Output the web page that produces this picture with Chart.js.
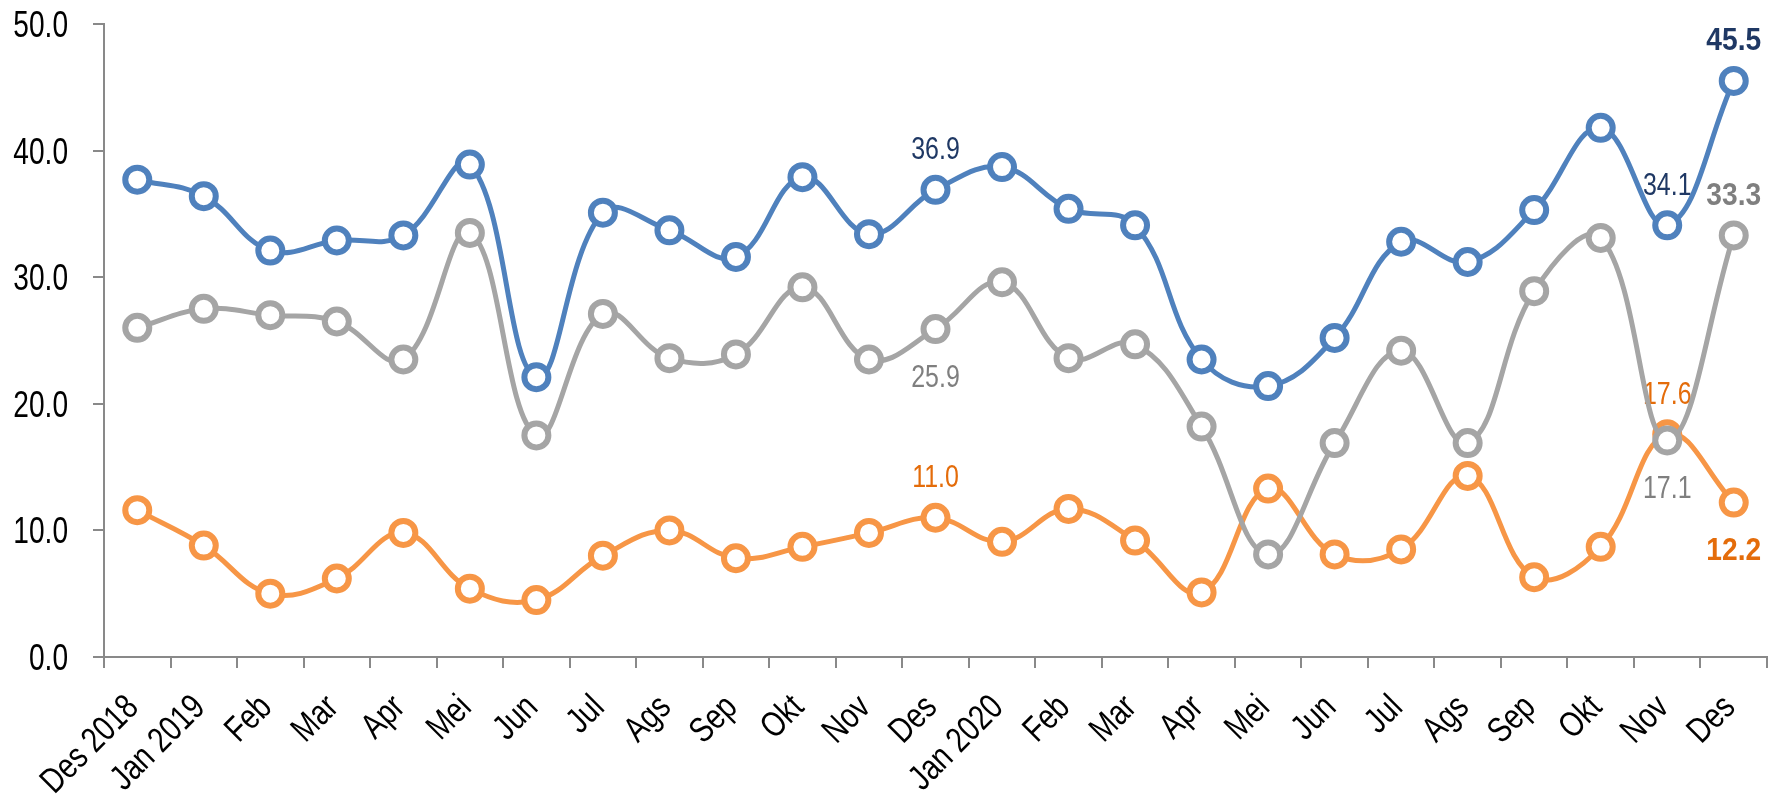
<!DOCTYPE html>
<html>
<head>
<meta charset="utf-8">
<script src="https://cdn.jsdelivr.net/npm/chart.js@4.4.1/dist/chart.umd.min.js"></script>
<style>
  html, body { margin: 0; padding: 0; background: #fff; }
  #wrap { width: 1785px; height: 795px; position: relative; }
</style>
</head>
<body>
<div id="wrap"><canvas id="chart"></canvas></div>
<script>
// kategori bulan (Des 2018 - Des 2020)
const months = ['Des 2018', 'Jan 2019', 'Feb', 'Mar', 'Apr', 'Mei', 'Jun', 'Jul', 'Ags', 'Sep', 'Okt', 'Nov',
                'Des', 'Jan 2020', 'Feb', 'Mar', 'Apr', 'Mei', 'Jun', 'Jul', 'Ags', 'Sep', 'Okt', 'Nov', 'Des'];

// nilai seri
const blueSeries   = [37.7, 36.4, 32.1, 32.9, 33.3, 38.9, 22.1, 35.1, 33.7, 31.6, 37.9, 33.4, 36.9,
                      38.7, 35.4, 34.1, 23.5, 21.4, 25.2, 32.8, 31.2, 35.3, 41.8, 34.1, 45.5];
const graySeries   = [26.0, 27.5, 27.0, 26.5, 23.5, 33.5, 17.5, 27.1, 23.6, 23.9, 29.2, 23.5, 25.9,
                      29.6, 23.6, 24.7, 18.2, 8.1, 16.9, 24.2, 16.9, 28.9, 33.1, 17.1, 33.3];
const orangeSeries = [11.6, 8.8, 5.0, 6.2, 9.8, 5.4, 4.5, 8.0, 10.0, 7.8, 8.7, 9.8, 11.0,
                      9.1, 11.7, 9.2, 5.1, 13.3, 8.1, 8.5, 14.3, 6.3, 8.7, 17.6, 12.2];

// titik yang diberi label angka
const blueLabelIdx   = [12, 23, 24];
const grayLabelIdx   = [12, 23, 24];
const orangeLabelIdx = [12, 23, 24];

const yTicks = [0, 10, 20, 30, 40, 50];

// font sempit (mirip Arial Narrow): Liberation Sans dipadatkan secara horizontal
const FONT = "'Liberation Sans', Arial, sans-serif";
const NARROW = 0.78;

function series(data, color, labelColor, idx, placement) {
    return {
        data: data,
        borderColor: color,
        backgroundColor: '#ffffff',
        pointBackgroundColor: '#ffffff',
        pointBorderColor: color,
        borderWidth: 5,
        pointRadius: 12,
        pointBorderWidth: 6,
        tension: 0.4,
        fill: false,
        valueLabels: { idx: idx, color: labelColor, placement: placement }
    };
}

const datasets = [
    series(blueSeries, '#4f81bd', '#1f3864', blueLabelIdx, { 12: 'above', 23: 'above', 24: 'above' }),
    series(graySeries, '#a5a5a5', '#7f7f7f', grayLabelIdx, { 12: 'below', 23: 'below', 24: 'above' }),
    series(orangeSeries, '#f79646', '#e46c0a', orangeLabelIdx, { 12: 'above', 23: 'above', 24: 'below' })
];

// tulis teks sempit: (x, y) = titik jangkar, baseline alphabetic
function narrowText(ctx, text, x, y, align, font, sx, angle) {
    ctx.save();
    ctx.translate(x, y);
    if (angle) ctx.rotate(angle);
    ctx.scale(sx, 1);
    ctx.font = font;
    ctx.textAlign = align;
    ctx.textBaseline = 'alphabetic';
    ctx.fillText(text, 0, 0);
    ctx.restore();
}

// label nilai di dekat titik (digambar di bawah garis, seperti aslinya)
const valueLabelPlugin = {
    id: 'valueLabels',
    beforeDatasetsDraw(chart) {
        const ctx = chart.ctx;
        chart.data.datasets.forEach((ds, di) => {
            const cfg = ds.valueLabels;
            if (!cfg) return;
            const meta = chart.getDatasetMeta(di);
            cfg.idx.forEach(i => {
                const pt = meta.data[i];
                const last = i === ds.data.length - 1;
                const center = pt.y + (cfg.placement[i] === 'above' ? -42 : 46);
                ctx.fillStyle = cfg.color;
                narrowText(ctx, ds.data[i].toFixed(1), pt.x, center + 11.5, 'center',
                           (last ? 'bold ' : '') + '32px ' + FONT, last ? 0.88 : NARROW, 0);
            });
        });
    }
};

// label sumbu digambar sendiri supaya hurufnya sempit
const axisLabelPlugin = {
    id: 'axisLabels',
    afterDraw(chart) {
        const ctx = chart.ctx;
        const xs = chart.scales.x, ys = chart.scales.y;
        ctx.fillStyle = '#000';
        ys.ticks.forEach(t => {
            const y = ys.getPixelForValue(t.value);
            narrowText(ctx, t.value.toFixed(1), ys.right - 36, y + 13, 'right', '36px ' + FONT, NARROW, 0);
        });
        months.forEach((m, i) => {
            const x = xs.getPixelForTick(i);
            narrowText(ctx, m, x + 3, xs.top + 52, 'right', '35.5px ' + FONT, 0.8, -Math.PI / 4);
        });
    }
};

new Chart(document.getElementById('chart'), {
    type: 'line',
    data: { labels: months, datasets: datasets },
    plugins: [valueLabelPlugin, axisLabelPlugin],
    options: {
        responsive: true,
        maintainAspectRatio: false,
        animation: false,
        events: [],
        layout: { padding: { top: 24, right: 17, bottom: 0, left: 0 } },
        plugins: { legend: { display: false }, tooltip: { enabled: false } },
        scales: {
            x: {
                offset: true,
                grid: { offset: true, drawOnChartArea: false, drawTicks: true, tickLength: 11, color: '#898989', lineWidth: 2 },
                border: { display: true, color: '#898989', width: 2 },
                ticks: { display: false, autoSkip: false },
                afterFit(scale) { scale.height = 138; }
            },
            y: {
                min: 0, max: 50,
                afterBuildTicks(scale) { scale.ticks = yTicks.map(v => ({ value: v })); },
                grid: { drawOnChartArea: false, drawTicks: true, tickLength: 11, color: '#898989', lineWidth: 2 },
                border: { display: true, color: '#898989', width: 2 },
                ticks: { display: false },
                afterFit(scale) { scale.width = 104; }
            }
        }
    }
});
</script>
</body>
</html>
